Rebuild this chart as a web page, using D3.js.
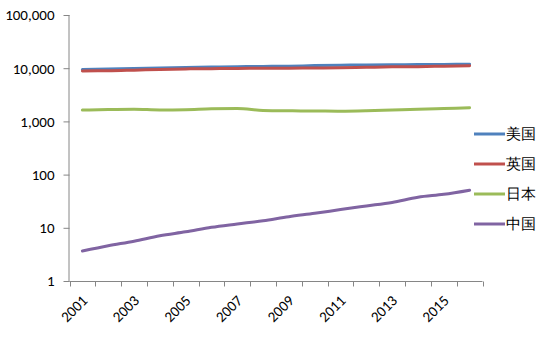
<!DOCTYPE html>
<html><head><meta charset="utf-8">
<script src="https://cdn.jsdelivr.net/npm/d3@7"></script>
<style>body{margin:0;background:#fff}svg{display:block}text{font-family:Carlito,"Liberation Sans",Arial,sans-serif}</style>
</head><body><svg id="c" width="548" height="345"></svg>
<script>
const years = ["2001","2002","2003","2004","2005","2006","2007","2008","2009","2010","2011","2012","2013","2014","2015","2016"];
const seriesNames = ["美国","英国","日本","中国"];
const usa = [9500,9700,9900,10100,10300,10500,10700,10800,10900,11200,11400,11500,11600,11700,11800,11850];
const uk = [8900,8950,9200,9500,9700,9800,9900,9950,10000,10100,10200,10400,10600,10700,10900,11100];
const japan = [1630,1670,1690,1640,1660,1720,1740,1610,1580,1570,1550,1580,1640,1700,1750,1800];
const china = [3.66,4.6,5.6,7.1,8.4,10.2,11.8,13.6,16.2,18.7,22,25.7,30,37.5,42.6,51];
const yTicks = [1,10,100,1000,10000,100000];
const colors = ["#4F81BD","#C0504D","#9BBB59","#8064A2"];
const data = [usa, uk, japan, china];

const svg = d3.select("#c");
const x = d3.scaleBand().domain(years).range([69.5, 482.5]);
const y = d3.scaleLog().domain([1,100000]).range([281,15]);
const axisColor = "#868686";

// y axis
const ya = svg.append("g").attr("transform","translate(69.5,0)")
  .call(d3.axisLeft(y).tickValues(yTicks).tickFormat(d3.format(",")).tickSize(6).tickPadding(9));
ya.selectAll("path,line").attr("stroke",axisColor);
ya.selectAll("text").attr("font-size",15).attr("fill","#000");
ya.select(".domain").attr("d","M-0.5,15V281.5");

// x axis
const xa = svg.append("g").attr("transform","translate(0,281.5)");
xa.append("line").attr("x1",69.5).attr("x2",482.5).attr("stroke",axisColor);
const bounds = years.map(d=>x(d)).concat([x(years[years.length-1])+x.bandwidth()]);
xa.selectAll(".t").data(bounds).enter().append("line")
  .attr("x1",d=>Math.round(d)+0.5).attr("x2",d=>Math.round(d)+0.5).attr("y1",0).attr("y2",5).attr("stroke",axisColor);
xa.selectAll(".l").data(years.filter((d,i)=>i%2===0)).enter().append("text")
  .attr("transform",d=>`translate(${x(d)+x.bandwidth()/2+6},${20}) rotate(-45)`)
  .attr("text-anchor","end").attr("font-size",15).attr("fill","#000").text(d=>d);

// lines
const line = d3.line().x((d,i)=>x(years[i])+x.bandwidth()/2).y(d=>y(d)).curve(d3.curveMonotoneX);
data.forEach((s,k)=>{
  svg.append("path").attr("d",line(s)).attr("fill","none").attr("stroke",colors[k]).attr("stroke-width",3).attr("stroke-linecap","round");
});

// legend
const lg = svg.append("g");
seriesNames.forEach((n,k)=>{
  const yy = 134 + k*30;
  lg.append("line").attr("x1",474).attr("x2",505).attr("y1",yy).attr("y2",yy).attr("stroke",colors[k]).attr("stroke-width",3);
  lg.append("text").attr("x",506).attr("y",yy).attr("dy","0.36em").attr("font-size",15)
    .attr("font-family","'Noto Sans CJK SC',sans-serif").attr("fill","#000").text(n);
});
</script></body></html>
